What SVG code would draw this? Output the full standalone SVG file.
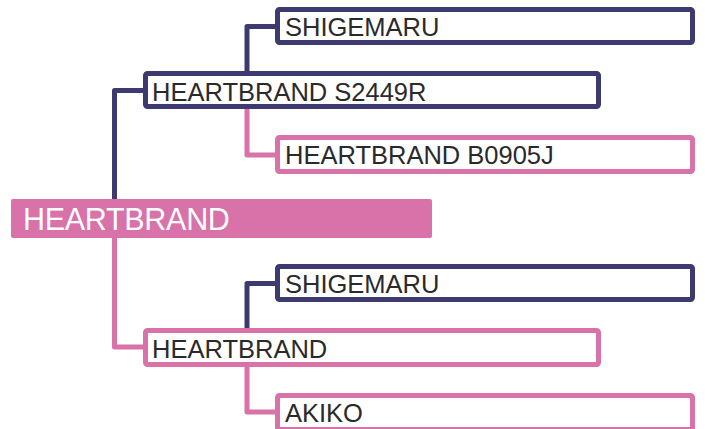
<svg xmlns="http://www.w3.org/2000/svg" width="705" height="429" viewBox="0 0 705 429">
<style>
.box{fill:#fff;stroke-width:5}
.navy{stroke:#3d3a6f}
.pink{stroke:#d872a9}
.lbl{font-family:"Liberation Sans",Arial,sans-serif;font-size:25.5px;fill:#2a2a2a}
.root{font-family:"Liberation Sans",Arial,sans-serif;font-size:30.5px;fill:#fff;letter-spacing:-0.3px}
.c{fill:none;stroke-width:5;stroke-linejoin:round}
</style>
<g id="connectors">
<path class="c navy" d="M114.5 199 V90.5 H143"/>
<path class="c pink" d="M114.5 238 V347 H143"/>
<path class="c navy" d="M247 71 V26.5 H275"/>
<path class="c pink" d="M247 109 V155 H275"/>
<path class="c navy" d="M247 328 V283.5 H275"/>
<path class="c pink" d="M247 367 V412 H275"/>
</g>
<g id="node-root">
<rect x="11" y="199" width="421" height="39" rx="2" fill="#d872a9"/>
<text class="root" x="23" y="230">HEARTBRAND</text>
</g>
<g id="node-s2449r">
<rect class="box navy" x="145.5" y="73.5" width="453" height="33" rx="2"/>
<text class="lbl" x="152" y="101">HEARTBRAND S2449R</text>
</g>
<g id="node-shigemaru-1">
<rect class="box navy" x="277.5" y="9.5" width="415" height="33" rx="2"/>
<text class="lbl" x="285" y="36">SHIGEMARU</text>
</g>
<g id="node-b0905j">
<rect class="box pink" x="277.5" y="137.5" width="415" height="34" rx="2"/>
<text class="lbl" x="285" y="164">HEARTBRAND B0905J</text>
</g>
<g id="node-heartbrand">
<rect class="box pink" x="145.5" y="330.5" width="453" height="34" rx="2"/>
<text class="lbl" x="152" y="358">HEARTBRAND</text>
</g>
<g id="node-shigemaru-2">
<rect class="box navy" x="277.5" y="266.5" width="415" height="33" rx="2"/>
<text class="lbl" x="285" y="293">SHIGEMARU</text>
</g>
<g id="node-akiko">
<rect class="box pink" x="277.5" y="395.5" width="415" height="34" rx="2"/>
<text class="lbl" x="285" y="422">AKIKO</text>
</g>
</svg>
